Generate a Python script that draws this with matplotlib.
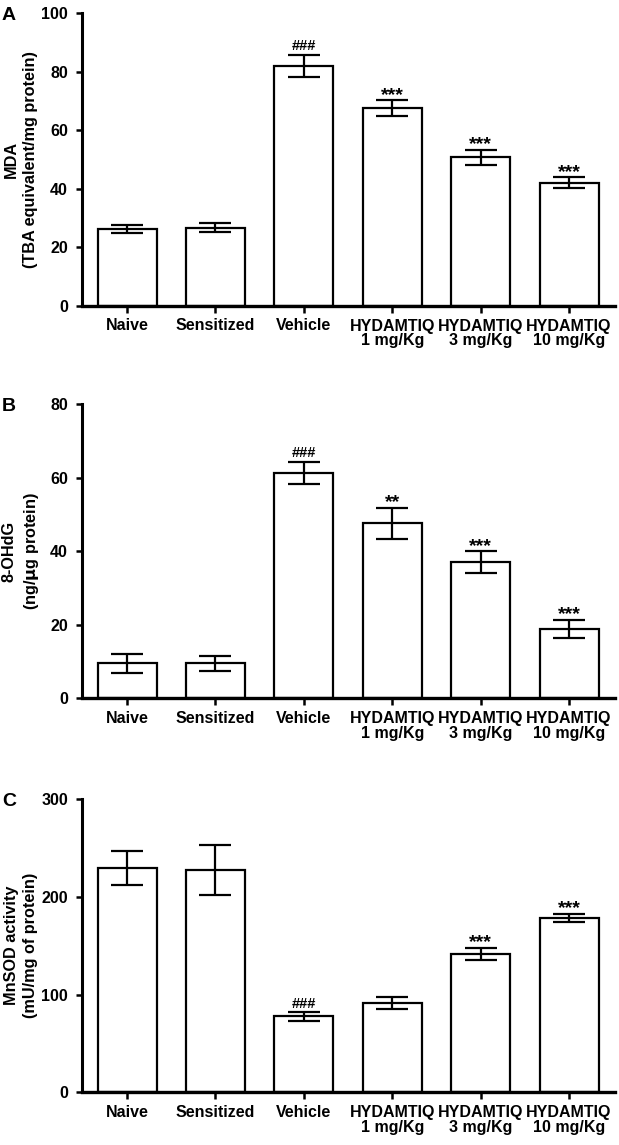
import matplotlib
matplotlib.use('Agg')
import matplotlib.pyplot as plt

groups = ['Naive', 'Sensitized', 'Vehicle',
          'HYDAMTIQ\n1 mg/Kg', 'HYDAMTIQ\n3 mg/Kg', 'HYDAMTIQ\n10 mg/Kg']

mda_mean = [26.3, 26.7, 82.0, 67.5, 50.7, 42.1]
mda_sem = [1.5, 1.5, 3.8, 2.7, 2.5, 1.8]
mda_marks = ['', '', '###', '***', '***', '***']

ohdg_mean = [9.5, 9.5, 61.4, 47.6, 37.1, 18.8]
ohdg_sem = [2.6, 2.0, 3.0, 4.2, 2.9, 2.5]
ohdg_marks = ['', '', '###', '**', '***', '***']

sod_mean = [229.7, 227.7, 77.7, 91.3, 141.8, 178.0]
sod_sem = [17.3, 25.5, 4.5, 6.1, 6.0, 4.2]
sod_marks = ['', '', '###', '', '***', '***']

plt.rcParams['font.family'] = ['Liberation Sans', 'DejaVu Sans']
plt.rcParams['font.weight'] = 'bold'
plt.rcParams['mathtext.default'] = 'bf'

W, H = 619, 1145
fig = plt.figure(figsize=(W / 100, H / 100), dpi=100)

# (letter, ylabel, ymax, step, means, sems, marks, top px, bottom px)
panels = [
    ('A', 'MDA\n(TBA equivalent/mg protein)', 100, 20, mda_mean, mda_sem, mda_marks, 13, 306),
    ('B', '8-OHdG\n(ng/$\\mu$g protein)', 80, 20, ohdg_mean, ohdg_sem, ohdg_marks, 404.3, 698.3),
    ('C', 'MnSOD activity\n(mU/mg of protein)', 300, 100, sod_mean, sod_sem, sod_marks, 799, 1092.3),
]

left_px, right_px = 82, 615
x = list(range(len(groups)))

for letter, ylabel, ymax, step, means, sems, marks, top, bottom in panels:
    ax = fig.add_axes([left_px / W, 1 - bottom / H, (right_px - left_px) / W, (bottom - top) / H])
    ax.bar(x, means, width=0.667, color='white', edgecolor='black', linewidth=1.6, zorder=2)
    ax.errorbar(x, means, yerr=sems, fmt='none', ecolor='black', elinewidth=1.6,
                capsize=11.5, capthick=1.6, zorder=3)
    for i, m in enumerate(marks):
        if not m:
            continue
        if m.startswith('#'):
            ax.annotate(m, (i, means[i] + sems[i]), xytext=(0, 3), textcoords='offset points',
                        ha='center', va='baseline', fontsize=10.5, fontweight='bold')
        else:
            ax.annotate(m, (i, means[i] + sems[i]), xytext=(0, 0.5), textcoords='offset points',
                        ha='center', va='baseline', fontsize=14, fontweight='bold')

    ax.set_xlim(-0.51, 5.52)
    ax.set_ylim(0, ymax)
    ax.set_yticks(range(0, ymax + 1, step))
    ax.set_xticks(x)
    ax.set_xticklabels(groups, fontsize=11.5, fontweight='bold', linespacing=1.0)

    for side in ('top', 'right'):
        ax.spines[side].set_visible(False)
    ax.spines['left'].set_linewidth(2.2)
    ax.spines['bottom'].set_linewidth(2.4)
    ax.spines['bottom'].set_zorder(4)
    ax.tick_params(axis='y', length=4, width=1.8, pad=6, labelsize=11.5)
    ax.tick_params(axis='x', length=5, width=1.8, pad=4)

    ax.set_ylabel(ylabel, fontsize=11.7, fontweight='bold', linespacing=1.35)
    ax.yaxis.label.set_va('center')
    ax.yaxis.set_label_coords(-0.114, 0.5)

    fig.text(2 / W, 1 - (top - 6) / H, letter, fontsize=14, fontweight='bold',
             ha='left', va='top')

fig.savefig('out.png', dpi=100)
